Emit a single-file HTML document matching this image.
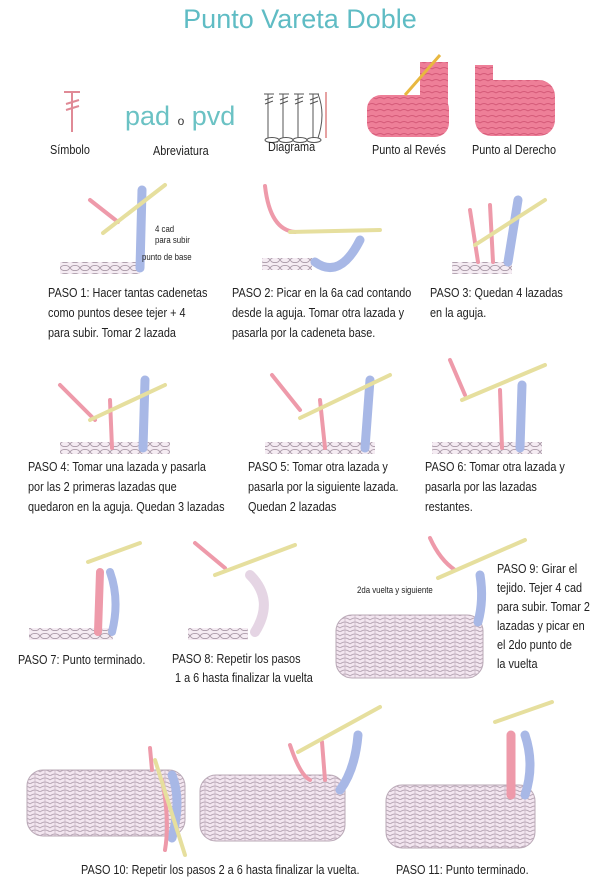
<!DOCTYPE html>
<html><head><meta charset="utf-8"><style>
body{margin:0;width:600px;height:893px;background:#fff;position:relative;overflow:hidden;font-family:"Liberation Sans",sans-serif;color:#222}
.t{position:absolute;font-size:12.5px;line-height:20px;white-space:nowrap;transform:scaleX(.87);transform-origin:0 0}
svg{position:absolute;left:0;top:0}
</style></head><body>
<svg width="600" height="893">
<defs>
<pattern id="knit" width="10" height="8" patternUnits="userSpaceOnUse"><rect width="10" height="8" fill="#f3e6f0"/><path d="M0 4 Q5 0 10 4 M0 8 Q5 4 10 8" stroke="#b9a8b6" fill="none" stroke-width="1"/><path d="M5 0 V8" stroke="#c9b7c6" stroke-width="0.8"/></pattern>
<pattern id="chain" width="10" height="8" patternUnits="userSpaceOnUse"><rect width="10" height="8" fill="#f5ecf3"/><ellipse cx="5" cy="4" rx="4.5" ry="2.6" fill="none" stroke="#a898a6" stroke-width="0.9"/></pattern>
<pattern id="pink" width="8" height="6" patternUnits="userSpaceOnUse"><rect width="8" height="6" fill="#ee7f98"/><path d="M0 3 Q4 0 8 3" stroke="#d45a78" fill="none"/></pattern>
</defs>
<path d="M64 92 H80 M72 92 V132 M66 104 L79 100 M66 110 L79 106" stroke="#e08a96" stroke-width="2" fill="none"/>
<g stroke="#555" stroke-width="1" fill="none">
<path d="M268 94 V138 M283 94 V138 M298 94 V138 M313 94 V138"/>
<path d="M264 94 h10 M279 94 h10 M294 94 h10 M309 94 h10"/>
<path d="M265 100 l8 -3 M265 104 l8 -3 M280 100 l8 -3 M280 104 l8 -3 M295 100 l8 -3 M295 104 l8 -3 M310 100 l8 -3 M310 104 l8 -3"/>
<ellipse cx="272" cy="140" rx="7" ry="2.5"/><ellipse cx="286" cy="140" rx="7" ry="2.5"/><ellipse cx="300" cy="140" rx="7" ry="2.5"/><ellipse cx="314" cy="140" rx="7" ry="2.5"/>
<path d="M318 94 q8 20 0 44" /></g>
<path d="M326 92 V138" stroke="#c44" stroke-width="1"/>
<rect x="367" y="95" width="82" height="42" rx="14" fill="url(#pink)"/>
<rect x="420" y="62" width="28" height="50" fill="url(#pink)"/>
<path d="M405 95 L440 55" stroke="#e8b840" stroke-width="3"/>
<rect x="475" y="80" width="80" height="56" rx="16" fill="url(#pink)"/>
<rect x="475" y="65" width="18" height="40" fill="url(#pink)"/>
<g stroke-linecap="round" fill="none">
<rect x="60" y="262" width="80" height="12" fill="url(#chain)" stroke="none"/>
<path d="M142 190 L140 268" stroke="#a8b8e6" stroke-width="9"/>
<path d="M90 200 L118 222" stroke="#ee9aaa" stroke-width="4"/>
<path d="M103 233 L165 185" stroke="#e6df9e" stroke-width="4"/>
<rect x="262" y="258" width="50" height="12" fill="url(#chain)" stroke="none"/>
<path d="M315 262 Q340 280 360 240" stroke="#a8b8e6" stroke-width="9"/>
<path d="M265 186 Q270 230 295 232" stroke="#ee9aaa" stroke-width="4"/>
<path d="M290 232 L380 230" stroke="#e6df9e" stroke-width="4"/>
<rect x="452" y="262" width="60" height="12" fill="url(#chain)" stroke="none"/>
<path d="M518 200 L508 262" stroke="#a8b8e6" stroke-width="9"/>
<path d="M470 210 L478 262 M490 205 L493 262" stroke="#ee9aaa" stroke-width="4"/>
<path d="M475 245 L545 200" stroke="#e6df9e" stroke-width="4"/>
<rect x="60" y="442" width="110" height="12" fill="url(#chain)" stroke="none"/>
<path d="M145 380 L143 448" stroke="#a8b8e6" stroke-width="9"/>
<path d="M60 385 L95 420 M110 400 L112 448" stroke="#ee9aaa" stroke-width="4"/>
<path d="M90 420 L165 385" stroke="#e6df9e" stroke-width="4"/>
<rect x="265" y="442" width="110" height="12" fill="url(#chain)" stroke="none"/>
<path d="M370 380 L365 448" stroke="#a8b8e6" stroke-width="9"/>
<path d="M272 375 L300 410 M320 400 L325 448" stroke="#ee9aaa" stroke-width="4"/>
<path d="M300 418 L390 375" stroke="#e6df9e" stroke-width="4"/>
<rect x="432" y="442" width="110" height="12" fill="url(#chain)" stroke="none"/>
<path d="M522 385 L520 448" stroke="#a8b8e6" stroke-width="9"/>
<path d="M450 360 L465 395 M500 390 L502 448" stroke="#ee9aaa" stroke-width="4"/>
<path d="M462 400 L545 365" stroke="#e6df9e" stroke-width="4"/>
<rect x="29" y="628" width="84" height="12" fill="url(#chain)" stroke="none"/>
<path d="M100 572 L98 632" stroke="#ee9aaa" stroke-width="8"/>
<path d="M110 572 Q120 600 112 632" stroke="#a8b8e6" stroke-width="8"/>
<path d="M88 562 L140 543" stroke="#e6df9e" stroke-width="4"/>
<rect x="188" y="628" width="60" height="12" fill="url(#chain)" stroke="none"/>
<path d="M250 575 Q275 600 255 632" stroke="#e5d5e4" stroke-width="10"/>
<path d="M195 543 L225 568" stroke="#ee9aaa" stroke-width="4"/>
<path d="M215 575 L295 545" stroke="#e6df9e" stroke-width="4"/>
<rect x="336" y="615" width="147" height="63" rx="16" fill="url(#knit)" stroke="#b9a8b6"/>
<path d="M480 575 Q484 600 478 622" stroke="#a8b8e6" stroke-width="9"/>
<path d="M430 538 Q440 560 455 570" stroke="#ee9aaa" stroke-width="4"/>
<path d="M438 578 L525 540" stroke="#e6df9e" stroke-width="4"/>
<rect x="27" y="770" width="158" height="66" rx="16" fill="url(#knit)" stroke="#b9a8b6"/>
<path d="M172 775 Q182 800 172 838" stroke="#a8b8e6" stroke-width="9"/>
<path d="M150 748 L152 770 M162 780 Q170 820 165 850" stroke="#ee9aaa" stroke-width="4"/>
<path d="M155 760 L185 855" stroke="#e6df9e" stroke-width="4"/>
<rect x="200" y="775" width="145" height="66" rx="16" fill="url(#knit)" stroke="#b9a8b6"/>
<path d="M358 735 Q355 770 340 790" stroke="#a8b8e6" stroke-width="9"/>
<path d="M290 745 Q300 775 310 780 M322 742 L325 780" stroke="#ee9aaa" stroke-width="4"/>
<path d="M298 752 L380 707" stroke="#e6df9e" stroke-width="4"/>
<rect x="386" y="785" width="149" height="63" rx="16" fill="url(#knit)" stroke="#b9a8b6"/>
<path d="M511 735 L511 795" stroke="#ee9aaa" stroke-width="9"/>
<path d="M525 735 Q535 765 525 795" stroke="#a8b8e6" stroke-width="9"/>
<path d="M495 722 L552 702" stroke="#e6df9e" stroke-width="4"/>
</g>
</svg>
<div class="t" style="left:0;width:600px;text-align:center;top:2px;font-size:27px;line-height:34px;color:#5fbcc4;transform:none">Punto Vareta Doble</div>
<div class="t" style="left:125px;top:100px;font-size:27px;line-height:32px;color:#6bc2c4;transform:none">pad <span style="font-size:12px;color:#333">o</span> pvd</div>
<div class="t" style="left:50px;top:140px">Símbolo</div>
<div class="t" style="left:153px;top:141px">Abreviatura</div>
<div class="t" style="left:268px;top:137px">Diagrama</div>
<div class="t" style="left:372px;top:140px">Punto al Revés</div>
<div class="t" style="left:472px;top:140px">Punto al Derecho</div>
<div class="t" style="left:155px;top:224px;font-size:9px;line-height:11px">4 cad<br>para subir</div>
<div class="t" style="left:142px;top:247px;font-size:9px">punto de base</div>
<div class="t" style="left:48px;top:283px">PASO 1: Hacer tantas cadenetas<br>como puntos desee tejer + 4<br>para subir. Tomar 2  lazada</div>
<div class="t" style="left:232px;top:283px">PASO 2: Picar en la 6a cad contando<br>desde la aguja. Tomar otra lazada y<br>pasarla por la cadeneta base.</div>
<div class="t" style="left:430px;top:283px">PASO 3: Quedan 4 lazadas<br>en la aguja.</div>
<div class="t" style="left:28px;top:457px">PASO 4: Tomar una lazada y pasarla<br>por las 2 primeras lazadas que<br>quedaron en la aguja. Quedan 3 lazadas</div>
<div class="t" style="left:248px;top:457px">PASO 5: Tomar otra lazada y<br>pasarla por la siguiente lazada.<br>Quedan 2 lazadas</div>
<div class="t" style="left:425px;top:457px">PASO 6: Tomar otra lazada y<br>pasarla por las lazadas<br>restantes.</div>
<div class="t" style="left:18px;top:650px">PASO 7: Punto terminado.</div>
<div class="t" style="left:172px;top:650px;line-height:19px">PASO 8: Repetir los pasos<br>&nbsp;1 a 6 hasta finalizar la vuelta</div>
<div class="t" style="left:357px;top:580px;font-size:9px">2da vuelta y siguiente</div>
<div class="t" style="left:497px;top:560px;line-height:19px">PASO 9: Girar el<br>tejido. Tejer 4 cad<br>para subir. Tomar 2<br>lazadas y picar en<br>el 2do punto de<br>la vuelta</div>
<div class="t" style="left:81px;top:860px">PASO 10: Repetir los pasos 2 a 6 hasta finalizar la vuelta.</div>
<div class="t" style="left:396px;top:860px">PASO 11: Punto terminado.</div>
</body></html>
